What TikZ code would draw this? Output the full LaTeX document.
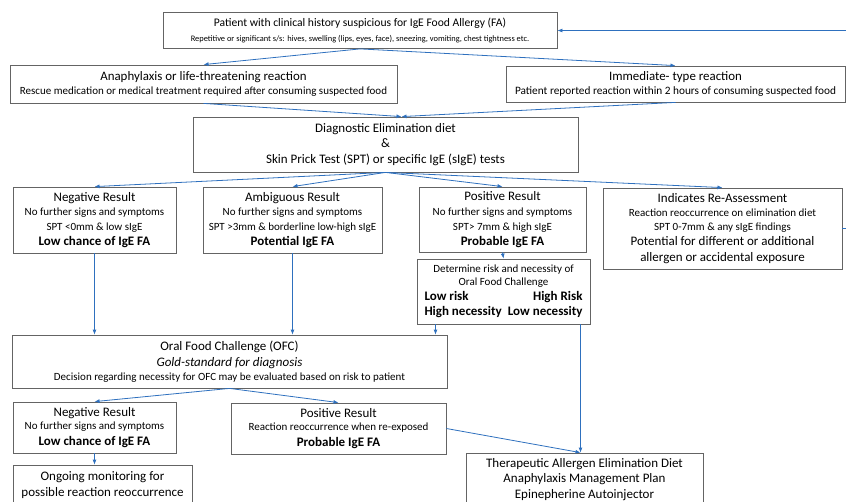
\documentclass[tikz,border=0pt]{standalone}
\usepackage{fontspec}
\setmainfont{Carlito}
\usetikzlibrary{arrows.meta}
\definecolor{flowblue}{RGB}{46,112,190}
\definecolor{boxgray}{RGB}{100,100,100}
\newcommand{\fsz}[2]{\fontsize{#1}{#2}\selectfont}
\begin{document}
\begin{tikzpicture}
		[x=1pt,y=-1pt,
		every node/.style={draw=boxgray,line width=0.8pt,align=center,inner sep=0pt},
		flow/.style={draw=flowblue,line width=0.8pt,-{Latex[length=5pt,width=4pt]}}]
		\useasboundingbox (0,0) rectangle (846,501);
		\clip (0,0) rectangle (846,501);
		\node[minimum width=394,minimum height=36,font=\fsz{8.4}{14.8}] (patient) at (360,30.5)
			{{\fsz{11.6}{14}Patient with clinical history suspicious for IgE Food Allergy (FA)}\\
			Repetitive or significant s/s: hives, swelling (lips, eyes, face), sneezing, vomiting, chest tightness etc.};
		\node[minimum width=387,minimum height=38,font=\fsz{11}{13.5}] (anaph) at (203.5,84)
			{{\fsz{12.9}{13.5}Anaphylaxis or life-threatening reaction}\\
			Rescue medication or medical treatment required after consuming suspected food};
		\node[minimum width=339,minimum height=36,font=\fsz{11.3}{13.5}] (immed) at (675.5,84)
			{{\fsz{12.9}{13.5}Immediate- type reaction}\\
			Patient reported reaction within 2 hours of consuming suspected food};
		\node[minimum width=385,minimum height=55,font=\fsz{13}{15.5}] (diag) at (385.5,144.5)
			{Diagnostic Elimination diet\\ \&\\ Skin Prick Test (SPT) or specific IgE (sIgE) tests};
		\node[minimum width=163,minimum height=66,font=\fsz{11}{14.5}] (negres) at (94.5,220)
			{{\fsz{13}{14.5}Negative Result}\\ No further signs and symptoms\\ SPT <0mm \& low sIgE\\[1pt]
			{\bfseries\fsz{13}{14.5}Low chance of IgE FA}};
		\node[minimum width=179,minimum height=66,font=\fsz{11}{14.5}] (ambres) at (292.5,220)
			{{\fsz{13}{14.5}Ambiguous Result}\\ No further signs and symptoms\\ SPT >3mm \& borderline low-high sIgE\\[1pt]
			{\bfseries\fsz{13}{14.5}Potential IgE FA}};
		\node[minimum width=167,minimum height=65,font=\fsz{11}{14.5}] (posres) at (502.5,219.5)
			{{\fsz{13}{14.5}Positive Result}\\[1pt] No further signs and symptoms\\ SPT> 7mm \& high sIgE\\[1pt]
			{\bfseries\fsz{13}{14.5}Probable IgE FA}};
		\node[minimum width=239,minimum height=81,font=\fsz{11}{14.2}] (reassess) at (722.5,228.5)
			{{\fsz{13}{14.5}Indicates Re-Assessment}\\ Reaction reoccurrence on elimination diet\\ SPT 0-7mm \& any sIgE findings\\[0.5pt]
			{\fsz{13}{14.5}Potential for different or additional}\\[1.5pt]
			{\fsz{13}{14.5}allergen or accidental exposure}};
		\node[minimum width=173,minimum height=65,font=\fsz{11}{13}] (risk) at (503.5,291.5)
			{Determine risk and necessity of\\ Oral Food Challenge\\[2.5pt]
			{\bfseries\fsz{13}{15}\makebox[158pt]{Low risk\hfill High Risk}}\\[2pt]
			{\bfseries\fsz{13}{15}\makebox[158pt]{High necessity\hfill Low necessity}}};
		\node[minimum width=435,minimum height=53,font=\fsz{11}{13.5}] (ofc) at (229.5,361.5)
			{{\fsz{13}{14}Oral Food Challenge (OFC)}\\[2.5pt]
			{\itshape\fsz{13}{14}Gold-standard for diagnosis}\\
			Decision regarding necessity for OFC may be evaluated based on risk to patient};
		\node[minimum width=163,minimum height=51,font=\fsz{11}{13.2}] (negofc) at (94.5,427.5)
			{{\fsz{13}{14}Negative Result}\\ No further signs and symptoms\\[2.5pt]
			{\bfseries\fsz{13}{14}Low chance of IgE FA}};
		\node[minimum width=215,minimum height=51,font=\fsz{11}{13.2}] (posofc) at (338.5,428.5)
			{{\fsz{13}{14}Positive Result}\\ Reaction reoccurrence when re-exposed\\[2.5pt]
			{\bfseries\fsz{13}{14}Probable IgE FA}};
		\node[minimum width=179,minimum height=40,font=\fsz{13}{16}] (monitor) at (102.5,485)
			{Ongoing monitoring for\\ possible reaction reoccurrence};
		\node[minimum width=237,minimum height=53,font=\fsz{13}{15.5}] (therapy) at (584.5,479.5)
			{Therapeutic Allergen Elimination Diet\\ Anaphylaxis Management Plan\\ Epinepherine Autoinjector};
		\draw[flow] (patient.south) -- (anaph.north);
		\draw[flow] (patient.south) -- (immed.north);
		\draw[flow] (anaph.south) -- ([xshift=16]diag.north);
		\draw[flow] (immed.south) -- ([xshift=16]diag.north);
		\foreach \n in {negres,ambres,posres,reassess}
			\draw[flow] (diag.south) -- (\n.north);
		\draw[flow] (negres.south) -- (negres.south |- ofc.north);
		\draw[flow] (ambres.south) -- (ambres.south |- ofc.north);
		\draw[flow] (posres.south) -- (risk.north);
		\draw[flow] ([xshift=-68]risk.south) -- ([xshift=-68]risk.south |- ofc.north);
		\draw[flow] ([xshift=77]risk.south) -- ([xshift=77]risk.south |- therapy.north);
		\draw[flow] (ofc.south) -- (negofc.north);
		\draw[flow] (ofc.south) -- (posofc.north);
		\draw[flow] (negofc.south) -- (negofc.south |- monitor.north);
		\draw[flow] (posofc.east) -- ([xshift=-4]therapy.north);
		\draw[flow] (reassess.east) -- ++(20,0) |- (patient.east);
	\end{tikzpicture}
\end{document}
